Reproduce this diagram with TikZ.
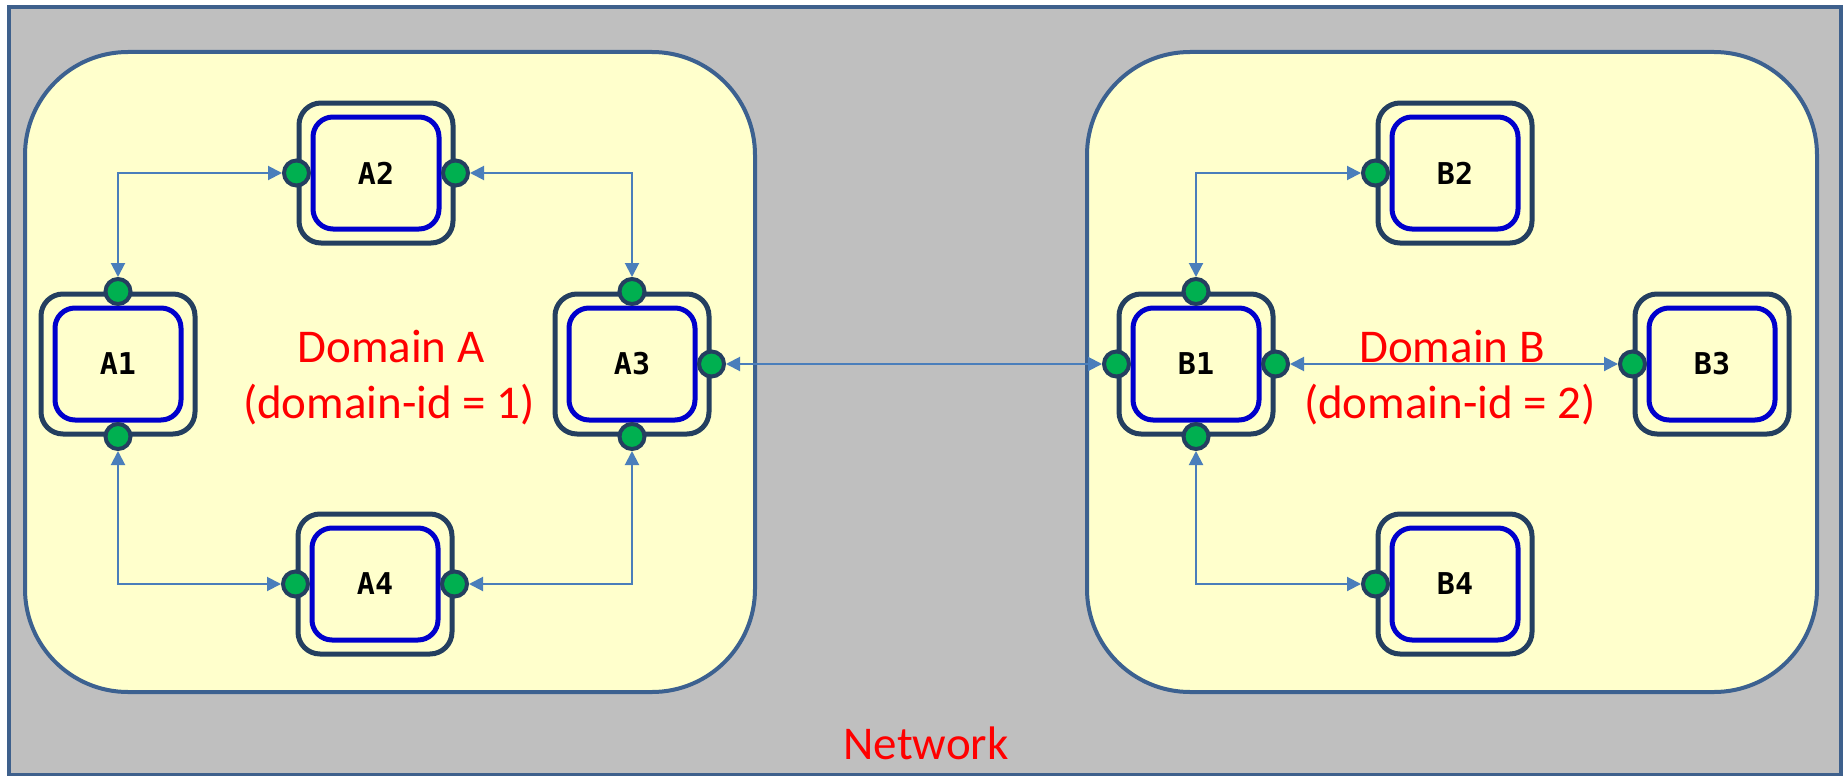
\documentclass[tikz,border=0pt]{standalone}
\usepackage{fontspec}
\setmainfont{Carlito}
\newfontfamily\devfont{DejaVu Sans Mono}
\usetikzlibrary{arrows.meta}

\definecolor{netfill}{HTML}{BFBFBF}
\definecolor{netline}{HTML}{3E608C}
\definecolor{domfill}{HTML}{FFFFCC}
\definecolor{domline}{HTML}{3C6190}
\definecolor{devline}{HTML}{243F60}
\definecolor{devinner}{HTML}{0000CC}
\definecolor{portfill}{HTML}{00B050}
\definecolor{connline}{HTML}{4A7EBB}
\definecolor{labelred}{HTML}{FF0000}

\tikzset{
  netframe/.style={draw=netline, fill=netfill, line width=4pt},
  domainbox/.style={draw=domline, fill=domfill, line width=4pt, rounded corners=103pt},
  devout/.style={draw=devline, line width=5pt, rounded corners=22pt,
    minimum width=154pt, minimum height=140pt, inner sep=0pt},
  devin/.style={draw=devinner, line width=5pt, rounded corners=20pt,
    minimum width=126pt, minimum height=112pt, inner sep=0pt,
    font=\devfont\bfseries\fontsize{30}{34}\selectfont},
  port/.style={circle, draw=devline, fill=portfill, line width=4pt,
    minimum size=25pt, inner sep=0pt},
  conn/.style={draw=connline, line width=2pt,
    {Triangle[length=14pt,width=14pt]}-{Triangle[length=14pt,width=14pt]}},
  redtext/.style={text=labelred, font=\fontsize{47}{56}\selectfont, inner sep=0pt, anchor=base},
}

\newcommand{\device}[3]{%
  \node[devout] (#1) at (#2) {};
  \node[devin] (#1in) at (#2) {#3};
}

\begin{document}
\begin{tikzpicture}[x=1pt,y=-1pt]
\useasboundingbox (0,0) rectangle (1845,776);

% network background
\draw[netframe] (9,7) rectangle (1841,775);
\node[redtext] (net) at (926,759) {Network};

% domains
\draw[domainbox] (25,52) rectangle (755,692);
\draw[domainbox] (1087,52) rectangle (1817,692);

% devices of domain A
\device{A1}{118,364}{A1}
\device{A2}{376,173}{A2}
\device{A3}{632,364}{A3}
\device{A4}{375,584}{A4}

% devices of domain B
\device{B1}{1196,364}{B1}
\device{B2}{1455,173}{B2}
\device{B3}{1712,364}{B3}
\device{B4}{1455,584}{B4}

% domain labels
\node[redtext] (domA) at (391,362) {Domain A};
\node[redtext] (domAid) at (389,418) {(domain-id = 1)};
\node[redtext] (domB) at (1452,362) {Domain B};
\node[redtext] (domBid) at (1450,418) {(domain-id = 2)};

% ports
\node[port] (A1t) at (A1.north) {};
\node[port] (A1b) at (A1.south) {};
\node[port] (A2l) at (A2.west) {};
\node[port] (A2r) at (A2.east) {};
\node[port] (A3t) at (A3.north) {};
\node[port] (A3b) at (A3.south) {};
\node[port] (A3r) at (A3.east) {};
\node[port] (A4l) at (A4.west) {};
\node[port] (A4r) at (A4.east) {};
\node[port] (B1t) at (B1.north) {};
\node[port] (B1b) at (B1.south) {};
\node[port] (B1l) at (B1.west) {};
\node[port] (B1r) at (B1.east) {};
\node[port] (B2l) at (B2.west) {};
\node[port] (B3l) at (B3.west) {};
\node[port] (B4l) at (B4.west) {};

% links
\draw[conn] (A2l.west) -| (A1t.north);
\draw[conn] (A2r.east) -| (A3t.north);
\draw[conn] (A1b.south) |- (A4l.west);
\draw[conn] (A4r.east) -| (A3b.south);
\draw[conn] (A3r.east) -- (B1l.west);
\draw[conn] (B1t.north) |- (B2l.west);
\draw[conn] (B1r.east) -- (B3l.west);
\draw[conn] (B1b.south) |- (B4l.west);
\end{tikzpicture}
\end{document}
